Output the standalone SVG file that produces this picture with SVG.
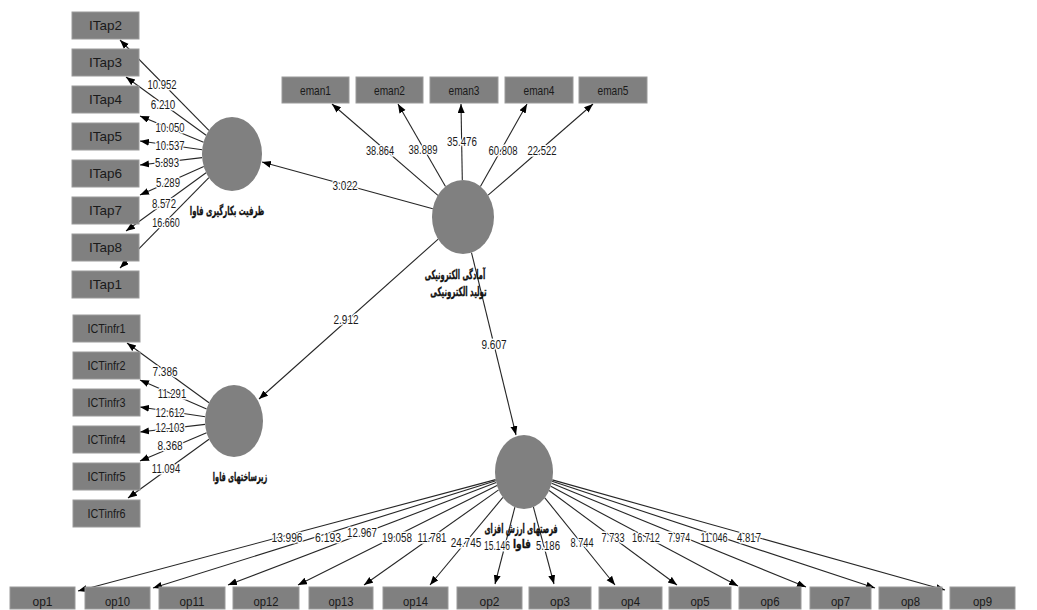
<svg xmlns="http://www.w3.org/2000/svg" width="1037" height="610" viewBox="0 0 1037 610">
<style>
.box{fill:#808080;stroke:#9a9a9a;stroke-width:1}
.bt{font-family:"Liberation Sans",Arial,sans-serif;font-size:13.5px;fill:#1a1a1a;text-anchor:middle;dominant-baseline:central}
.lv{fill:#808080}
.ln{font-family:"DejaVu Sans","Noto Sans",sans-serif;font-size:12.5px;font-weight:bold;fill:#111;stroke:#111;stroke-width:0.35;text-anchor:middle;dominant-baseline:central}
.c{stroke:#262626;stroke-width:1.1;fill:none;marker-end:url(#ah)}
.w{font-family:"Liberation Sans",Arial,sans-serif;font-size:13px;fill:#1a1a1a;text-anchor:middle;dominant-baseline:central;stroke:#fff;stroke-width:3;paint-order:stroke;stroke-linejoin:round}
</style>
<defs>
<marker id="ah" markerUnits="userSpaceOnUse" markerWidth="10" markerHeight="8" refX="9" refY="3.5" orient="auto">
<path d="M0,0 L9,3.5 L0,7 z" fill="#000"/>
</marker>
</defs>
<rect width="1037" height="610" fill="#fff"/>
<g id="connectors">
<line class="c" x1="208.9" y1="130.4" x2="120" y2="40"/>
<line class="c" x1="206.1" y1="135.2" x2="126" y2="77"/>
<line class="c" x1="203.6" y1="142.3" x2="140" y2="116"/>
<line class="c" x1="202.2" y1="149.8" x2="140" y2="141"/>
<line class="c" x1="202.1" y1="157.6" x2="140" y2="165"/>
<line class="c" x1="203.8" y1="166.6" x2="140" y2="195"/>
<line class="c" x1="206.1" y1="172.8" x2="126" y2="231"/>
<line class="c" x1="208.9" y1="177.6" x2="120" y2="268"/>
<line class="c" x1="437.9" y1="195.3" x2="332" y2="104"/>
<line class="c" x1="445.5" y1="186.5" x2="398" y2="104"/>
<line class="c" x1="462.3" y1="180" x2="461" y2="104"/>
<line class="c" x1="480.4" y1="186.4" x2="527" y2="104"/>
<line class="c" x1="488.1" y1="195.2" x2="593" y2="104"/>
<line class="c" x1="432.8" y1="208.8" x2="262" y2="162"/>
<line class="c" x1="438.2" y1="239.1" x2="259" y2="399"/>
<line class="c" x1="471.5" y1="252.6" x2="516" y2="435"/>
<line class="c" x1="209" y1="402.8" x2="127" y2="343"/>
<line class="c" x1="206.6" y1="409.1" x2="140" y2="380"/>
<line class="c" x1="205.2" y1="416.7" x2="140" y2="407"/>
<line class="c" x1="205.1" y1="424.4" x2="140" y2="432"/>
<line class="c" x1="206.6" y1="432.7" x2="140" y2="461"/>
<line class="c" x1="209" y1="439.2" x2="128" y2="498"/>
<line class="c" x1="495.6" y1="479.6" x2="78" y2="591"/>
<line class="c" x1="495.8" y1="480.8" x2="153" y2="588"/>
<line class="c" x1="496.2" y1="482.6" x2="228" y2="585"/>
<line class="c" x1="497" y1="485.5" x2="298" y2="585"/>
<line class="c" x1="498.6" y1="489.9" x2="364" y2="585"/>
<line class="c" x1="502.9" y1="497.4" x2="430" y2="585"/>
<line class="c" x1="514.9" y1="507.1" x2="495" y2="584"/>
<line class="c" x1="533.4" y1="507" x2="554" y2="584"/>
<line class="c" x1="544.8" y1="497.8" x2="615" y2="585"/>
<line class="c" x1="549.1" y1="490.5" x2="677" y2="585"/>
<line class="c" x1="550.8" y1="486.3" x2="738" y2="586"/>
<line class="c" x1="551.6" y1="483.3" x2="806" y2="587"/>
<line class="c" x1="552.1" y1="481.3" x2="875" y2="588"/>
<line class="c" x1="552.3" y1="479.9" x2="945" y2="590"/>
<text class="w" transform="translate(162 84) scale(0.73 1)">10.952</text>
<text class="w" transform="translate(163 104) scale(0.76 1)">6.210</text>
<text class="w" transform="translate(170 127) scale(0.73 1)">10.050</text>
<text class="w" transform="translate(170 145) scale(0.73 1)">10.537</text>
<text class="w" transform="translate(167 162) scale(0.74 1)">5.893</text>
<text class="w" transform="translate(168 182) scale(0.74 1)">5.289</text>
<text class="w" transform="translate(164 203) scale(0.74 1)">8.572</text>
<text class="w" transform="translate(166 222) scale(0.69 1)">16.660</text>
<text class="w" transform="translate(380 150) scale(0.71 1)">38.864</text>
<text class="w" transform="translate(423 149) scale(0.73 1)">38.889</text>
<text class="w" transform="translate(462 141) scale(0.75 1)">35.476</text>
<text class="w" transform="translate(503 150) scale(0.73 1)">60.808</text>
<text class="w" transform="translate(542 150) scale(0.73 1)">22.522</text>
<text class="w" transform="translate(345 185) scale(0.77 1)">3.022</text>
<text class="w" transform="translate(346 319) scale(0.77 1)">2.912</text>
<text class="w" transform="translate(494 344) scale(0.77 1)">9.607</text>
<text class="w" transform="translate(165 371) scale(0.77 1)">7.386</text>
<text class="w" transform="translate(172 393) scale(0.73 1)">11.291</text>
<text class="w" transform="translate(170 412) scale(0.73 1)">12.612</text>
<text class="w" transform="translate(170 427) scale(0.73 1)">12.103</text>
<text class="w" transform="translate(170 445) scale(0.77 1)">8.368</text>
<text class="w" transform="translate(166 468) scale(0.73 1)">11.094</text>
<text class="w" transform="translate(287 537) scale(0.78 1)">13.996</text>
<text class="w" transform="translate(328 537) scale(0.8 1)">6.193</text>
<text class="w" transform="translate(362 532) scale(0.75 1)">12.967</text>
<text class="w" transform="translate(397 537) scale(0.76 1)">19.058</text>
<text class="w" transform="translate(432 537) scale(0.75 1)">11.781</text>
<text class="w" transform="translate(466 542) scale(0.77 1)">24.745</text>
<text class="w" transform="translate(497 545) scale(0.65 1)">15.146</text>
<text class="w" transform="translate(548 545) scale(0.74 1)">5.186</text>
<text class="w" transform="translate(582 542) scale(0.71 1)">8.744</text>
<text class="w" transform="translate(613 537) scale(0.71 1)">7.733</text>
<text class="w" transform="translate(646 537) scale(0.7 1)">16.712</text>
<text class="w" transform="translate(679 537) scale(0.68 1)">7.974</text>
<text class="w" transform="translate(714 537) scale(0.7 1)">11.046</text>
<text class="w" transform="translate(749 537) scale(0.74 1)">4.817</text>
</g>
<g id="lv-itap"><ellipse class="lv" cx="232" cy="154" rx="30" ry="37"/><text class="ln" transform="translate(227 211) scale(0.55 1)">ظرفیت بکارگیری فاوا</text></g>
<g id="lv-eready"><ellipse class="lv" cx="463" cy="217" rx="31" ry="37"/><text class="ln" transform="translate(455 275) scale(0.53 1)">آمادگی الکترونیکی</text><text class="ln" transform="translate(458.5 292) scale(0.56 1)">تولید الکترونیکی</text></g>
<g id="lv-ictinfr"><ellipse class="lv" cx="234" cy="421" rx="29" ry="36"/><text class="ln" transform="translate(240 477) scale(0.52 1)">زیرساختهای فاوا</text></g>
<g id="lv-op"><ellipse class="lv" cx="524" cy="472" rx="29" ry="37"/><text class="ln" transform="translate(521 529) scale(0.53 1)">فرصتهای ارزش افزای</text><text class="ln" transform="translate(522 544) scale(0.72 1)">فاوا</text></g>
<g id="ITap2"><rect class="box" x="72" y="12" width="67" height="27"/><text class="bt" x="105.5" y="25.5" textLength="33" lengthAdjust="spacingAndGlyphs">ITap2</text></g>
<g id="ITap3"><rect class="box" x="72" y="49" width="67" height="27"/><text class="bt" x="105.5" y="62.5" textLength="33" lengthAdjust="spacingAndGlyphs">ITap3</text></g>
<g id="ITap4"><rect class="box" x="72" y="86" width="67" height="27"/><text class="bt" x="105.5" y="99.5" textLength="33" lengthAdjust="spacingAndGlyphs">ITap4</text></g>
<g id="ITap5"><rect class="box" x="72" y="123" width="67" height="27"/><text class="bt" x="105.5" y="136.5" textLength="33" lengthAdjust="spacingAndGlyphs">ITap5</text></g>
<g id="ITap6"><rect class="box" x="72" y="160" width="67" height="27"/><text class="bt" x="105.5" y="173.5" textLength="33" lengthAdjust="spacingAndGlyphs">ITap6</text></g>
<g id="ITap7"><rect class="box" x="72" y="197" width="67" height="27"/><text class="bt" x="105.5" y="210.5" textLength="33" lengthAdjust="spacingAndGlyphs">ITap7</text></g>
<g id="ITap8"><rect class="box" x="72" y="234" width="67" height="27"/><text class="bt" x="105.5" y="247.5" textLength="33" lengthAdjust="spacingAndGlyphs">ITap8</text></g>
<g id="ITap1"><rect class="box" x="72" y="271" width="67" height="27"/><text class="bt" x="105.5" y="284.5" textLength="33" lengthAdjust="spacingAndGlyphs">ITap1</text></g>
<g id="eman1"><rect class="box" x="282" y="77" width="67" height="26"/><text class="bt" x="315.5" y="90" textLength="31" lengthAdjust="spacingAndGlyphs">eman1</text></g>
<g id="eman2"><rect class="box" x="356" y="77" width="67" height="26"/><text class="bt" x="389.5" y="90" textLength="31" lengthAdjust="spacingAndGlyphs">eman2</text></g>
<g id="eman3"><rect class="box" x="430" y="77" width="68" height="26"/><text class="bt" x="464" y="90" textLength="31" lengthAdjust="spacingAndGlyphs">eman3</text></g>
<g id="eman4"><rect class="box" x="505" y="77" width="68" height="26"/><text class="bt" x="539" y="90" textLength="31" lengthAdjust="spacingAndGlyphs">eman4</text></g>
<g id="eman5"><rect class="box" x="579" y="77" width="68" height="26"/><text class="bt" x="613" y="90" textLength="31" lengthAdjust="spacingAndGlyphs">eman5</text></g>
<g id="ICTinfr1"><rect class="box" x="73" y="315" width="67" height="27"/><text class="bt" x="106.5" y="328.5" textLength="38" lengthAdjust="spacingAndGlyphs">ICTinfr1</text></g>
<g id="ICTinfr2"><rect class="box" x="73" y="352" width="67" height="27"/><text class="bt" x="106.5" y="365.5" textLength="38" lengthAdjust="spacingAndGlyphs">ICTinfr2</text></g>
<g id="ICTinfr3"><rect class="box" x="73" y="389" width="67" height="27"/><text class="bt" x="106.5" y="402.5" textLength="38" lengthAdjust="spacingAndGlyphs">ICTinfr3</text></g>
<g id="ICTinfr4"><rect class="box" x="73" y="426" width="67" height="27"/><text class="bt" x="106.5" y="439.5" textLength="38" lengthAdjust="spacingAndGlyphs">ICTinfr4</text></g>
<g id="ICTinfr5"><rect class="box" x="73" y="463" width="67" height="27"/><text class="bt" x="106.5" y="476.5" textLength="38" lengthAdjust="spacingAndGlyphs">ICTinfr5</text></g>
<g id="ICTinfr6"><rect class="box" x="73" y="500" width="67" height="27"/><text class="bt" x="106.5" y="513.5" textLength="38" lengthAdjust="spacingAndGlyphs">ICTinfr6</text></g>
<g id="op1"><rect class="box" x="10" y="587" width="65" height="22"/><text class="bt" x="42.5" y="601" textLength="20" lengthAdjust="spacingAndGlyphs">op1</text></g>
<g id="op10"><rect class="box" x="85" y="587" width="65" height="22"/><text class="bt" x="117.5" y="601" textLength="25" lengthAdjust="spacingAndGlyphs">op10</text></g>
<g id="op11"><rect class="box" x="159" y="587" width="66" height="22"/><text class="bt" x="192" y="601" textLength="25" lengthAdjust="spacingAndGlyphs">op11</text></g>
<g id="op12"><rect class="box" x="233" y="587" width="66" height="22"/><text class="bt" x="266" y="601" textLength="25" lengthAdjust="spacingAndGlyphs">op12</text></g>
<g id="op13"><rect class="box" x="309" y="587" width="64" height="22"/><text class="bt" x="341" y="601" textLength="25" lengthAdjust="spacingAndGlyphs">op13</text></g>
<g id="op14"><rect class="box" x="383" y="587" width="65" height="22"/><text class="bt" x="415.5" y="601" textLength="25" lengthAdjust="spacingAndGlyphs">op14</text></g>
<g id="op2"><rect class="box" x="457" y="587" width="65" height="22"/><text class="bt" x="489.5" y="601" textLength="20" lengthAdjust="spacingAndGlyphs">op2</text></g>
<g id="op3"><rect class="box" x="529" y="587" width="62" height="22"/><text class="bt" x="560" y="601" textLength="20" lengthAdjust="spacingAndGlyphs">op3</text></g>
<g id="op4"><rect class="box" x="599" y="587" width="63" height="22"/><text class="bt" x="630.5" y="601" textLength="19" lengthAdjust="spacingAndGlyphs">op4</text></g>
<g id="op5"><rect class="box" x="669" y="587" width="62" height="22"/><text class="bt" x="700" y="601" textLength="19" lengthAdjust="spacingAndGlyphs">op5</text></g>
<g id="op6"><rect class="box" x="739" y="587" width="62" height="22"/><text class="bt" x="770" y="601" textLength="19" lengthAdjust="spacingAndGlyphs">op6</text></g>
<g id="op7"><rect class="box" x="810" y="587" width="61" height="22"/><text class="bt" x="840.5" y="601" textLength="19" lengthAdjust="spacingAndGlyphs">op7</text></g>
<g id="op8"><rect class="box" x="879" y="587" width="63" height="22"/><text class="bt" x="910.5" y="601" textLength="19" lengthAdjust="spacingAndGlyphs">op8</text></g>
<g id="op9"><rect class="box" x="950" y="587" width="65" height="22"/><text class="bt" x="982.5" y="601" textLength="19" lengthAdjust="spacingAndGlyphs">op9</text></g>
</svg>
